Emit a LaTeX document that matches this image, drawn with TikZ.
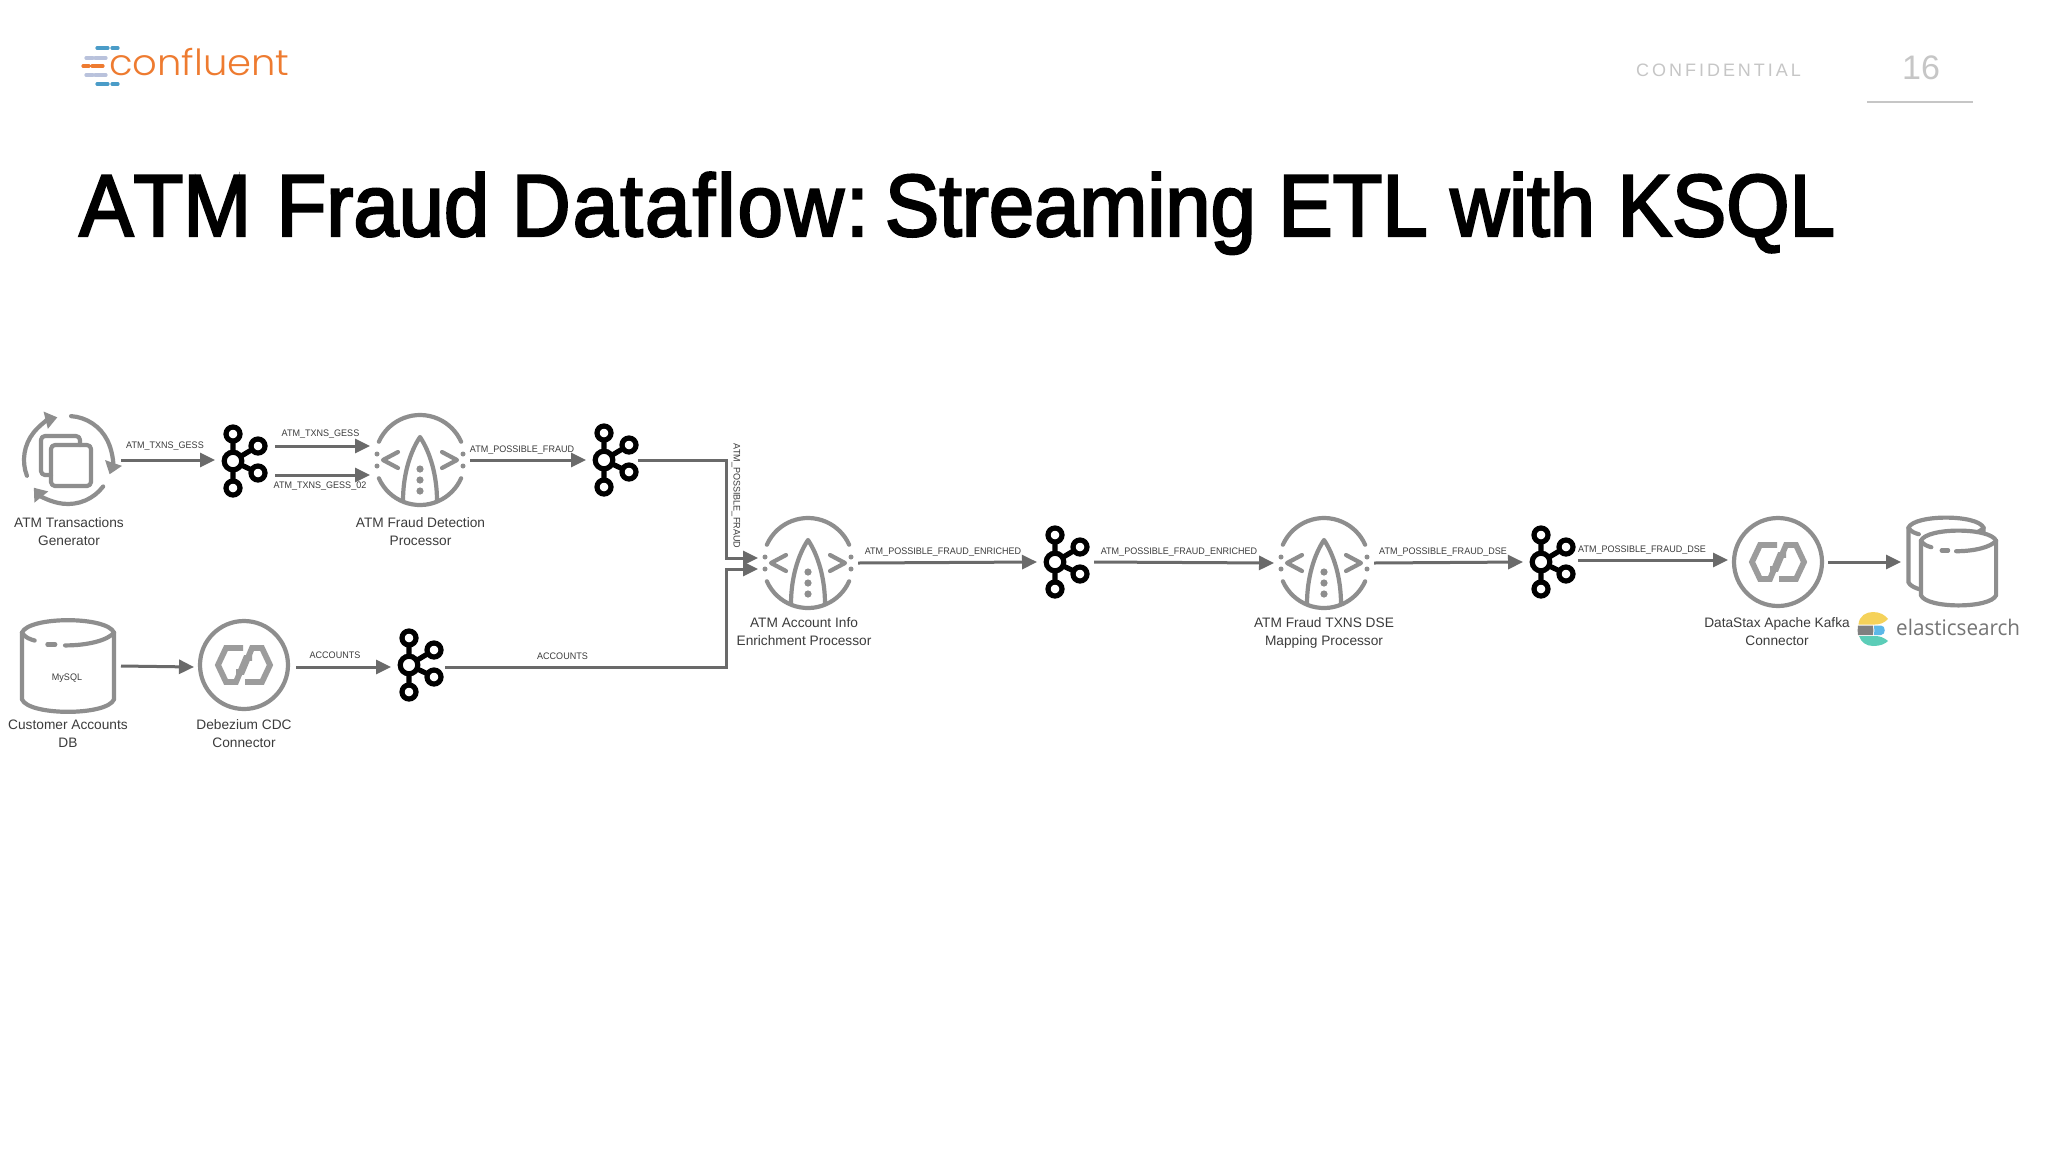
\documentclass[tikz,border=0pt]{standalone}
\usepackage{fontspec}
\usetikzlibrary{arrows.meta,calc}
\setmainfont{Liberation Sans}
\newfontfamily\titlefont[FakeBold=2.6,FakeStretch=0.925,Kerning=Off]{Liberation Sans}
\newfontfamily\titlewide[FakeBold=2.6,FakeStretch=0.925,Kerning=Off,LetterSpace=2.5]{Liberation Sans}
\newfontfamily\logofont[FakeStretch=1.07]{Poppins Light}
\newfontfamily\conffont[LetterSpace=16.5]{Liberation Sans}
\newfontfamily\esfont[FakeStretch=0.96]{Open Sans}
\newfontfamily\edgefont[FakeStretch=0.95]{Liberation Sans}
\definecolor{icongray}{HTML}{8E8E8E}
\definecolor{linkgray}{HTML}{9C9C9C}
\definecolor{arrowgray}{HTML}{6A6A6A}
\definecolor{textgray}{HTML}{3C3C3C}
\definecolor{palegray}{HTML}{C6C6C6}
\definecolor{cforange}{HTML}{EE7B30}
\definecolor{cfblue}{HTML}{4A9CC8}
\definecolor{cflilac}{HTML}{B9C2DC}
\definecolor{esyellow}{HTML}{F5D25A}
\definecolor{esteal}{HTML}{5CCDB8}
\definecolor{esblue}{HTML}{5CB8E8}
\definecolor{esgray}{HTML}{808080}
\definecolor{estext}{HTML}{757575}
\tikzset{
  iconline/.style={draw=icongray,line width=4.2pt,line cap=round,line join=round},
  roundicon/.style={circle,minimum size=90pt,inner sep=0pt,outer sep=5pt},
  dbicon/.style={rectangle,minimum width=94pt,minimum height=94pt,inner sep=0pt,outer sep=6pt},
  kafkabox/.style={rectangle,minimum width=48pt,minimum height=73pt,inner sep=0pt,outer sep=6pt},
  flow/.style={draw=arrowgray,line width=3pt,-{Triangle[length=15pt,width=14pt]}},
  edgetext/.style={font=\edgefont\fontsize{9.5pt}{12pt}\selectfont,text=textgray,inner sep=0pt},
  nodetext/.style={font=\fontsize{13.7pt}{18pt}\selectfont,text=textgray,inner sep=0pt,align=center,anchor=north},
}
\newcommand{\procglyph}[2]{%
  \begin{scope}[shift={(#1,#2)}]
    \draw[iconline] (156:45pt) arc[start angle=156,end angle=24,radius=45pt];
    \draw[iconline] (204:45pt) arc[start angle=204,end angle=336,radius=45pt];
    \draw[iconline] (-22,-8) -- (-37,0) -- (-22,8);
    \draw[iconline] (22,-8) -- (37,0) -- (22,8);
    \draw[iconline] (-17,41) .. controls (-17,15) and (-10,-8) .. (0,-23) .. controls (10,-8) and (17,15) .. (17,41);
    \foreach \py in {9,20,31} \fill[icongray] (0,\py) circle[radius=3.6pt];
    \foreach \py in {-6,6} {\fill[icongray] (-43,\py) circle[radius=2.5pt]; \fill[icongray] (43,\py) circle[radius=2.5pt];}
  \end{scope}}
\newcommand{\linkglyph}[2]{%
  \begin{scope}[shift={(#1,#2)}]
    \draw[iconline] (0,0) circle[radius=44pt];
    \draw[draw=linkgray,line width=5.8pt,line join=miter] (-1,-17) -- (-18,-17) -- (-26,0) -- (-18,17) -- (-8,17) -- (2,-7) -- (8,-7);
    \draw[draw=linkgray,line width=5.8pt,line join=miter] (1,17) -- (18,17) -- (26,0) -- (18,-17) -- (8,-17) -- (-2,7) -- (-8,7);
  \end{scope}}
\newcommand{\kafkaglyph}[2]{%
  \begin{scope}[shift={(#1,#2)},line width=5.2pt]
    \draw[black] (0,0) -- (0,-27) (0,0) -- (0,27) (0,0) -- (25,-15) (0,0) -- (25,12);
    \foreach \qx/\qy in {0/-27,0/27,25/-15,25/12} \draw[black,fill=white] (\qx,\qy) circle[radius=7pt];
    \draw[black,fill=white] (0,0) circle[radius=8.8pt];
  \end{scope}}
\newcommand{\dbglyph}[3]{%
  \begin{scope}[shift={(#1,#2)},scale=#3]
    \draw[iconline,fill=white] (-47,-34) .. controls (-40,-51) and (40,-51) .. (47,-34) -- (47,34) .. controls (40,51) and (-40,51) .. (-47,34) -- cycle;
    \draw[iconline] (-47,-34) .. controls (-44,-29) and (-38,-27) .. (-34,-26);
    \draw[iconline] (-21,-22) -- (-13,-22);
    \draw[iconline] (-3,-21) .. controls (20,-21) and (40,-26) .. (47,-34);
  \end{scope}}
\begin{document}
\begin{tikzpicture}[x=1pt,y=-1pt]
\useasboundingbox (0,0) rectangle (2048,1152);
\fill[white] (0,0) rectangle (2048,1152);

% header
\foreach \ya/\colr/\xa/\xb/\xc/\xd in {48/cfblue/97/108/112/118,58/cflilac/86/93/95/106,66/cforange/83/89/92/103,75/cflilac/86/93/95/106,84/cfblue/97/108/112/118}
  \draw[\colr,line width=3.2pt,line cap=round] (\xa,\ya) -- (\xb,\ya) (\xc,\ya) -- (\xd,\ya);
\node[anchor=base west,inner sep=0pt,text=cforange,font=\logofont\fontsize{36pt}{38pt}\selectfont] (brand) at (109,75) {confluent};
\node[anchor=west,inner sep=0pt,text=palegray,font=\conffont\fontsize{18pt}{20pt}\selectfont] (conf) at (1636,70) {CONFIDENTIAL};
\node[anchor=base,inner sep=0pt,text=palegray,font=\fontsize{34pt}{36pt}\selectfont] (pageno) at (1921,79) {16};
\draw[palegray,line width=2pt] (1867,102) -- (1973,102);
\node[anchor=base west,inner sep=0pt,text=black,font=\titlefont\fontsize{88pt}{92pt}\selectfont] (title) at (79,236) {ATM\kern3pt{} Fraud {\titlewide Dataflow:}\kern-14pt{} Streaming ETL with KSQL};

% anchor nodes
\node[roundicon] (gen) at (68,460) {};
\node[kafkabox] (ka) at (245,460) {};
\node[roundicon] (det) at (420,460) {};
\node[kafkabox] (kb) at (616,460) {};
\node[dbicon] (cust) at (68,666) {};
\node[roundicon] (deb) at (244,667) {};
\node[kafkabox] (kc) at (421,667) {};
\node[roundicon] (enr) at (808,563) {};
\node[kafkabox] (kd) at (1067,562) {};
\node[roundicon] (map) at (1324,563) {};
\node[kafkabox] (ke) at (1553,562) {};
\node[roundicon] (dsx) at (1778,562) {};
\node[rectangle,minimum width=90pt,minimum height=89pt,inner sep=0pt,outer sep=6pt] (store) at (1952,562) {};
\coordinate (joina) at (726,558);
\coordinate (joinb) at (726,569);

% generator icon
\begin{scope}[shift={(68,460)}]
  \begin{scope}[every path/.style={iconline,-{Triangle[length=12pt,width=17pt]}}]
    \draw (201:44pt) arc[start angle=201,end angle=104,radius=44pt];
    \draw (86:44pt) arc[start angle=86,end angle=-19,radius=44pt];
    \draw (-37:44pt) arc[start angle=-37,end angle=-141,radius=44pt];
  \end{scope}
  \draw[iconline,rounded corners=4pt] (12,-15) -- (12,-24) -- (-27,-24) -- (-27,15) -- (-17,15);
  \draw[iconline,rounded corners=4pt] (-17,-15) rectangle (23,26);
\end{scope}

% icons
\procglyph{420}{460}
\procglyph{808}{563}
\procglyph{1324}{563}
\linkglyph{244}{665}
\linkglyph{1778}{562}
\kafkaglyph{233}{461}
\kafkaglyph{604}{460}
\kafkaglyph{409}{665}
\kafkaglyph{1055}{562}
\kafkaglyph{1541}{562}
\dbglyph{68}{666}{0.98}
\dbglyph{1946}{555}{0.8}
\dbglyph{1958.5}{568}{0.8}
\node[edgetext] (mysql) at (67,678) {MySQL};

% connectors
\draw[flow] ([xshift=3pt]gen.east) -- (ka.west);
\draw[flow] ([yshift=14pt]ka.east) -- ([yshift=14pt]det.west);
\draw[flow] ([yshift=-15pt]ka.east) -- ([yshift=-15pt]det.west);
\draw[flow] (det.east) -- (kb.west);
\draw[flow] ([xshift=-8pt]kb.east) -| (joina) -- ([yshift=5pt]enr.west);
\draw[flow] (cust.east) -- (deb.west);
\draw[flow] ([xshift=2pt]deb.east) -- (kc.west);
\draw[flow] ([xshift=-6pt]kc.east) -| (joinb) -- ([yshift=-6pt]enr.west);
\draw[flow] (enr.east) -- (kd.west);
\draw[flow] ([xshift=-3pt]kd.east) -- (map.west);
\draw[flow] (map.east) -- (ke.west);
\draw[flow] ([xshift=-5pt,yshift=2pt]ke.east) -- ([yshift=2pt]dsx.west);
\draw[flow] (dsx.east) -- (store.west);

% edge labels
\node[edgetext] (la) at (165,446) {ATM\_TXNS\_GESS};
\node[edgetext] (lb) at (320.5,434) {ATM\_TXNS\_GESS};
\node[edgetext] (lc) at (320,486) {ATM\_TXNS\_GESS\_02};
\node[edgetext] (ld) at (522,450) {ATM\_POSSIBLE\_FRAUD};
\node[edgetext,rotate=-90] (le) at (736,496) {ATM\_POSSIBLE\_FRAUD};
\node[edgetext] (lf) at (335,655) {ACCOUNTS};
\node[edgetext] (lg) at (562.5,656) {ACCOUNTS};
\node[edgetext] (lh) at (943,552) {ATM\_POSSIBLE\_FRAUD\_ENRICHED};
\node[edgetext] (li) at (1179,552) {ATM\_POSSIBLE\_FRAUD\_ENRICHED};
\node[edgetext] (lj) at (1443,552) {ATM\_POSSIBLE\_FRAUD\_DSE};
\node[edgetext] (lk) at (1642,550) {ATM\_POSSIBLE\_FRAUD\_DSE};

% node labels
\node[nodetext] (ta) at (69,517.5) {ATM Transactions\\Generator};
\node[nodetext] (tb) at (420.5,517.5) {ATM Fraud Detection\\Processor};
\node[nodetext] (tc) at (68,719.5) {Customer Accounts\\DB};
\node[nodetext] (td) at (244,719.5) {Debezium CDC\\Connector};
\node[nodetext] (te) at (804,617.5) {ATM Account Info\\Enrichment Processor};
\node[nodetext] (tf) at (1324,617.5) {ATM Fraud TXNS DSE\\Mapping Processor};
\node[nodetext] (tg) at (1777,617.5) {DataStax Apache Kafka\\Connector};

% elasticsearch logo
\fill[esyellow] (1858.5,624.5) .. controls (1859,616) and (1866,612) .. (1873,612) .. controls (1880,612) and (1885,615) .. (1888,619) .. controls (1884,623) and (1880,624.5) .. (1875,624.5) -- cycle;
\fill[esgray] (1858,625.5) -- (1873,625.5) .. controls (1873.5,629) and (1873.5,632) .. (1873,635) -- (1858,635) .. controls (1857.5,632) and (1857.5,629) .. (1858,625.5) -- cycle;
\fill[esblue] (1874,625.5) -- (1881,625.5) .. controls (1886,625.5) and (1886,635) .. (1881,635) -- (1874,635) .. controls (1874.5,632) and (1874.5,629) .. (1874,625.5) -- cycle;
\fill[esteal] (1859,636) -- (1875,636) .. controls (1880,636) and (1884,637.5) .. (1888,641) .. controls (1885,644) and (1880,646) .. (1873,646) .. controls (1866,646) and (1861,642) .. (1859,636) -- cycle;
\node[anchor=base west,inner sep=0pt,text=estext,font=\esfont\fontsize{21.5pt}{24pt}\selectfont] (es) at (1896,635) {elasticsearch};
\end{tikzpicture}
\end{document}
